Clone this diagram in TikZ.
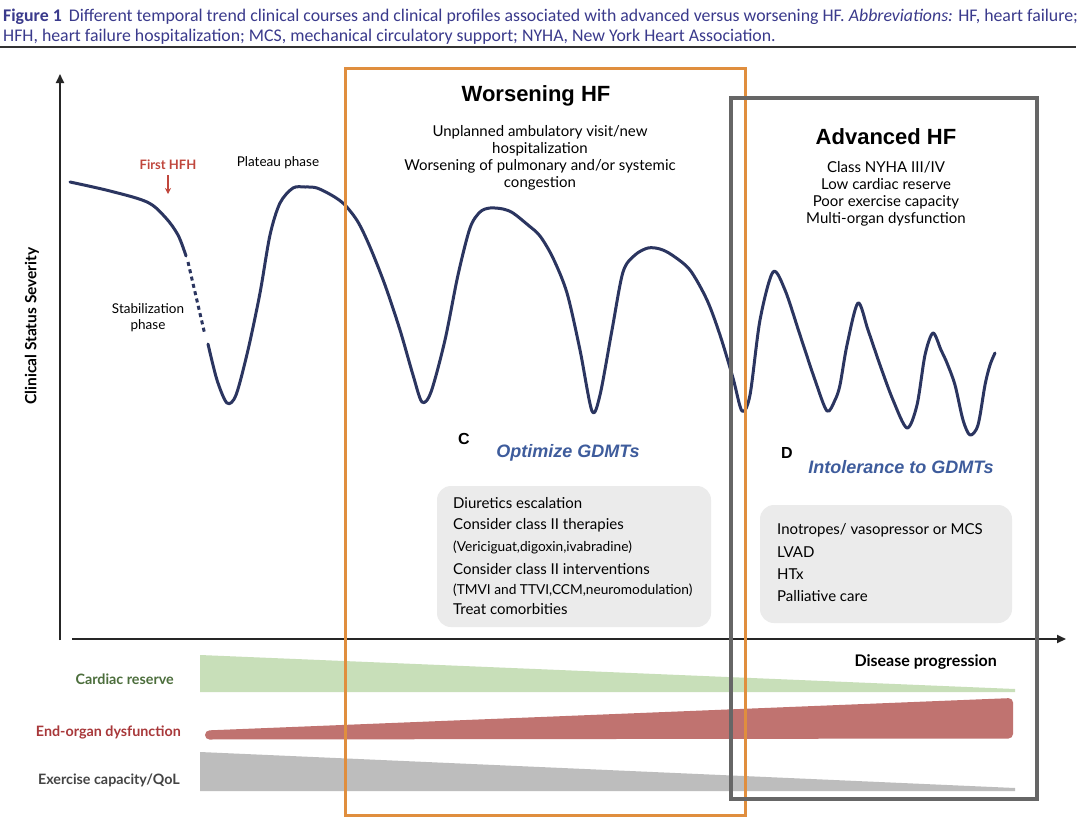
\documentclass[tikz,border=0pt]{standalone}
\usepackage{fontspec}
\setmainfont{Lato}
\newfontfamily\capfont{Carlito}
\newfontfamily\headfont{Liberation Sans}
\usetikzlibrary{arrows.meta}
\definecolor{capblue}{HTML}{3A3A8C}
\definecolor{curvecol}{HTML}{2B3560}
\definecolor{hfhred}{HTML}{C0463C}
\definecolor{boxorange}{HTML}{E08E3E}
\definecolor{boxgray}{HTML}{666666}
\definecolor{gdmtblue}{HTML}{3E5C9C}
\definecolor{panelgray}{HTML}{EBEBEB}
\definecolor{bandgreen}{HTML}{C8DFB9}
\definecolor{bandred}{HTML}{C07370}
\definecolor{bandgray}{HTML}{BDBDBD}
\definecolor{labgreen}{HTML}{4C6E3C}
\definecolor{labred}{HTML}{A8383A}
\definecolor{labgray}{HTML}{444444}
\newcommand{\fs}[2]{\fontsize{#1}{#2}\selectfont}
\tikzset{
  axisline/.style={line width=2pt, draw=black!85, -{Triangle[length=9pt,width=8pt]}},
  curveline/.style={line width=3pt, draw=curvecol, line cap=round, line join=round},
  bodytext/.style={font=\fs{15}{17}, align=center, inner sep=0pt},
  title/.style={font=\headfont\bfseries\fs{22}{24}, inner sep=0pt},
  letter/.style={font=\headfont\bfseries\fs{16}{18}, inner sep=0pt},
  gdmt/.style={font=\headfont\bfseries\itshape\fs{18}{20}, text=gdmtblue, inner sep=0pt},
  panel/.style={fill=panelgray, rounded corners=14pt, draw=none},
  bandlab/.style={font=\bfseries\fs{14.3}{16}, anchor=east, inner sep=0pt},
  listitem/.style={anchor=west, font=\fs{15}{17}, inner sep=0pt},
  listsmall/.style={anchor=west, font=\fs{13.7}{16}, inner sep=0pt},
}
\begin{document}
\begin{tikzpicture}[x=1pt,y=-1pt]
\useasboundingbox (0,0) rectangle (1080,828);
\fill[white] (0,0) rectangle (1080,828);

% caption
\node[anchor=base west, font=\capfont\fs{17.8}{20}, text=capblue, inner sep=0pt] (cap1) at (3,21)
  {\textbf{Figure 1}\hspace{7pt}Different temporal trend clinical courses and clinical profiles associated with advanced versus worsening HF. \textit{Abbreviations:} HF, heart failure;};
\node[anchor=base west, font=\capfont\fs{17.8}{20}, text=capblue, inner sep=0pt] (cap2) at (3,41)
  {HFH, heart failure hospitalization; MCS, mechanical circulatory support; NYHA, New York Heart Association.};
\coordinate (ruleL) at (0,47);
\coordinate (ruleR) at (1076,47);
\draw[line width=2pt, black!80] (ruleL) -- (ruleR);

% bands
\fill[bandgreen] (200,655) -- (1015,689) -- (1015,692) -- (200,692) -- cycle;
\fill[bandred, rounded corners=4.5pt] (205,730.5) -- (1013,698) -- (1013,738.5) -- (205,739.5) -- cycle;
\fill[bandgray] (200,752) -- (1015,788) -- (1015,791) -- (200,791) -- cycle;

\node[bandlab, text=labgreen] (lcr) at (174,679) {Cardiac reserve};
\node[bandlab, text=labred] (leo) at (181,732) {End-organ dysfunction};
\node[bandlab, text=labgray] (lex) at (180,780) {Exercise capacity/QoL};

% panels
\fill[panel] (437,486) rectangle (711,627);
\fill[panel] (760,505) rectangle (1012,623);

% axes
\coordinate (yo) at (60,640);
\coordinate (ytop) at (60,74);
\coordinate (xo) at (72,639);
\coordinate (xend) at (1066,639);
\draw[axisline] (yo) -- (ytop);
\draw[axisline] (xo) -- (xend);
\node[rotate=90, font=\bfseries\fs{15.5}{17}, inner sep=0pt] (ylab) at (32,326) {Clinical Status Severity};
\node[anchor=east, font=\bfseries\fs{16}{18}, inner sep=0pt] (xlab) at (997,662) {Disease progression};

% curve
\draw[curveline] plot[smooth, tension=0.55] coordinates {(70,182) (110,191) (147,202) (165,217) (178,235) (186,256)};
\draw[curveline, line cap=butt, dash pattern=on 4pt off 3.5pt] (188,262) -- (205,335);
\draw[curveline] plot[smooth, tension=0.5] coordinates {
 (208,344) (217,380) (227,403) (236,395) (248,350) (260,293) (270,235) (280,203) (293,188) (305,187) (317,188) (333,196) (345,205) (358,222) (370,247) (385,285) (400,330) (413,375) (422,402) (431,392) (445,340) (458,275) (470,228) (480,212) (490,208) (503,209) (513,213) (528,225) (540,236) (553,258) (567,293) (580,350) (592,411) (600,395) (612,330) (623,272) (635,255) (648,248) (660,249) (672,255) (690,270) (707,300) (720,335) (733,378) (742,411) (750,395) (760,320) (773,272) (785,290) (800,335) (815,380) (827,411) (835,400) (840,385) (847,345) (858,303) (868,330) (880,365) (893,400) (907,428) (917,405) (925,355) (933,333) (941,350) (947,363) (955,385) (963,420) (970,435) (978,425) (985,385) (990,365) (995,353)};

% left labels
\node[font=\bfseries\fs{13}{15}, text=hfhred, inner sep=0pt] (hfh) at (168,165) {First HFH};
\coordinate (hfhtip) at (168,194);
\draw[hfhred, line width=1.2pt, -{Stealth[length=6pt,width=6pt]}] (hfh.south) ++(0,5) -- (hfhtip);
\node[font=\fs{13.5}{16}, inner sep=0pt] (plat) at (278,163) {Plateau phase};
\node[font=\fs{13.5}{16}, align=center, inner sep=0pt] (stab) at (148,318) {Stabilization\\phase};

% worsening HF
\node[title] (wtitle) at (536,96) {Worsening HF};
\node[bodytext] (wtext) at (540,158) {Unplanned ambulatory visit/new\\hospitalization\\Worsening of pulmonary and/or systemic\\congestion};

% advanced HF
\node[title] (atitle) at (886,137) {Advanced HF};
\node[bodytext] (atext) at (886,194) {Class NYHA III/IV\\Low cardiac reserve\\Poor exercise capacity\\Multi-organ dysfunction};

% C panel
\node[letter] (lc) at (464,439) {C};
\node[gdmt] (optc) at (568,453) {Optimize GDMTs};
\node[listitem] (c1) at (453,503) {Diuretics escalation};
\node[listitem] (c2) at (453,525) {Consider class II therapies};
\node[listsmall] (c3) at (453,547) {(Vericiguat,digoxin,ivabradine)};
\node[listitem] (c4) at (453,569) {Consider class II interventions};
\node[listsmall] (c5) at (453,590) {(TMVI and TTVI,CCM,neuromodulation)};
\node[listitem] (c6) at (453,609) {Treat comorbities};

% D panel
\node[letter] (ld) at (787,453) {D};
\node[gdmt] (intd) at (901,467) {Intolerance to GDMTs};
\node[listitem] (d1) at (777,530) {Inotropes/ vasopressor or MCS};
\node[listitem] (d2) at (777,552) {LVAD};
\node[listitem] (d3) at (777,574) {HTx};
\node[listitem] (d4) at (777,596) {Palliative care};

% frames
\draw[boxorange, line width=3pt] (345,68) rectangle (745,815);
\draw[boxgray, line width=4pt] (731,98) rectangle (1037,799);
\end{tikzpicture}
\end{document}
